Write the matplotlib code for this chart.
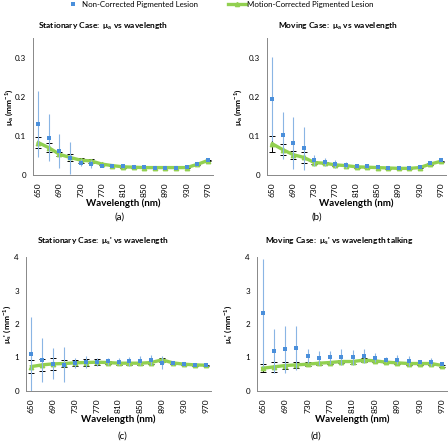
import numpy as np
import matplotlib
matplotlib.use("Agg")
import matplotlib.pyplot as plt
from matplotlib.lines import Line2D

plt.rcParams['font.family'] = ['Lato', 'DejaVu Sans']
plt.rcParams['mathtext.fontset'] = 'custom'
plt.rcParams['mathtext.rm'] = 'Lato'
plt.rcParams['mathtext.it'] = 'Lato'
plt.rcParams['mathtext.bf'] = 'Lato:bold'

wavelengths = [650, 670, 690, 710, 730, 750, 770, 790, 810, 830, 850, 870, 890, 910, 930, 950, 970]
tick_labels = ['650', '690', '730', '770', '810', '850', '890', '930', '970']

# (a) stationary, mu_a
a_nc = [0.131, 0.096, 0.062, 0.043, 0.032, 0.028, 0.024, 0.023, 0.022, 0.021, 0.020, 0.019, 0.019, 0.019, 0.021, 0.027, 0.038]
a_nc_err = [0.085, 0.060, 0.043, 0.041, 0.008, 0.010, 0.004, 0.003, 0.003, 0.003, 0.003, 0.002, 0.002, 0.002, 0.003, 0.003, 0.003]
a_mc = [0.083, 0.070, 0.053, 0.045, 0.038, 0.036, 0.028, 0.024, 0.021, 0.020, 0.019, 0.019, 0.019, 0.019, 0.019, 0.027, 0.037]
a_mc_err = [0.015, 0.011, 0.005, 0.010, 0.006, 0.006, 0.003, 0.002, 0.002, 0.002, 0.002, 0.002, 0.002, 0.002, 0.002, 0.002, 0.002]

# (b) moving, mu_a
b_nc = [0.194, 0.102, 0.082, 0.068, 0.038, 0.033, 0.028, 0.025, 0.023, 0.022, 0.020, 0.017, 0.017, 0.018, 0.020, 0.030, 0.038]
b_nc_err = [0.108, 0.060, 0.066, 0.056, 0.014, 0.010, 0.010, 0.008, 0.006, 0.005, 0.003, 0.002, 0.002, 0.002, 0.002, 0.002, 0.003]
b_mc = [0.080, 0.065, 0.052, 0.045, 0.032, 0.030, 0.026, 0.024, 0.021, 0.020, 0.019, 0.018, 0.017, 0.017, 0.019, 0.028, 0.035]
b_mc_err = [0.020, 0.015, 0.010, 0.013, 0.003, 0.003, 0.003, 0.002, 0.002, 0.002, 0.002, 0.002, 0.002, 0.002, 0.002, 0.002, 0.002]

# (c) stationary, mu_s'
c_nc = [1.09, 0.92, 0.82, 0.79, 0.84, 0.86, 0.87, 0.89, 0.88, 0.89, 0.91, 0.92, 0.84, 0.84, 0.80, 0.79, 0.78]
c_nc_err = [1.13, 0.65, 0.45, 0.53, 0.16, 0.18, 0.12, 0.10, 0.10, 0.13, 0.12, 0.15, 0.19, 0.05, 0.04, 0.03, 0.03]
c_mc = [0.73, 0.78, 0.81, 0.82, 0.84, 0.85, 0.86, 0.85, 0.83, 0.83, 0.83, 0.85, 0.93, 0.84, 0.80, 0.78, 0.77]
c_mc_err = [0.19, 0.19, 0.17, 0.10, 0.08, 0.10, 0.09, 0.05, 0.04, 0.04, 0.04, 0.04, 0.05, 0.03, 0.02, 0.02, 0.02]

# (d) moving (talking), mu_s'
d_nc = [2.34, 1.20, 1.25, 1.29, 1.04, 0.99, 1.01, 1.01, 1.01, 1.04, 1.00, 0.94, 0.94, 0.90, 0.87, 0.87, 0.82]
d_nc_err = [1.61, 0.65, 0.70, 0.66, 0.20, 0.21, 0.19, 0.23, 0.22, 0.20, 0.13, 0.08, 0.12, 0.14, 0.07, 0.11, 0.05]
d_mc = [0.68, 0.72, 0.76, 0.78, 0.80, 0.83, 0.85, 0.88, 0.88, 0.92, 0.90, 0.86, 0.84, 0.82, 0.82, 0.82, 0.76]
d_mc_err = [0.12, 0.15, 0.10, 0.09, 0.06, 0.04, 0.04, 0.05, 0.06, 0.06, 0.04, 0.03, 0.03, 0.03, 0.03, 0.03, 0.03]

BLUE = '#4a8fdb'
BLUE_ERR = '#8ab5e4'
GREEN = '#92d050'

fig = plt.figure(figsize=(4.48, 4.41), dpi=100)
W, H = 448.0, 441.0


def make_ax(left, right, top, bottom):
    return fig.add_axes([left / W, 1 - bottom / H, (right - left) / W, (bottom - top) / H])


def draw(ax, nc, nc_err, mc, mc_err, ymax, yticks, ylab, ylab_x):
    x = np.arange(len(wavelengths))
    ax.errorbar(x, mc, yerr=mc_err, color=GREEN, lw=2.4, marker='^', ms=3.2,
                ecolor='black', elinewidth=0.7, capsize=2.2, capthick=0.7, zorder=2)
    ax.errorbar(x, nc, yerr=nc_err, fmt='s', color=BLUE, ms=3.0, mew=0,
                ecolor=BLUE_ERR, elinewidth=0.8, capsize=2.2, capthick=0.8, zorder=3)
    ax.set_xlim(-0.5, len(x) - 0.5)
    ax.set_ylim(0, ymax)
    ax.set_xticks(x[::2])
    ax.set_xticklabels(tick_labels, rotation=90, fontsize=6)
    ax.set_yticks(yticks)
    ax.set_yticklabels(['{:g}'.format(v) for v in yticks], fontsize=5.8)
    ax.tick_params(length=0, pad=5)
    for s in ['top', 'right']:
        ax.spines[s].set_visible(False)
    for s in ['left', 'bottom']:
        ax.spines[s].set_color('#888888')
        ax.spines[s].set_linewidth(0.7)
    ax.set_xlabel('Wavelength (nm)', fontsize=7, fontweight='bold', labelpad=1)
    ax.set_ylabel(ylab, fontsize=6, fontweight='bold')
    ax.yaxis.set_label_coords(ylab_x, 0.5)


mua_lab = r'μ$_\mathbf{a}$ (mm$^\mathbf{-1}$)'
mus_lab = r"μ$_\mathbf{s}$' (mm$^\mathbf{-1}$)"

ax_a = make_ax(33, 213, 38.5, 175)
draw(ax_a, a_nc, a_nc_err, a_mc, a_mc_err, 0.35, [0, 0.1, 0.2, 0.3], mua_lab, -0.1)
ax_b = make_ax(267, 446, 38.5, 175)
draw(ax_b, b_nc, b_nc_err, b_mc, b_mc_err, 0.35, [0, 0.1, 0.2, 0.3], mua_lab, -0.13)
ax_c = make_ax(26, 211, 257, 391)
draw(ax_c, c_nc, c_nc_err, c_mc, c_mc_err, 4, [0, 1, 2, 3, 4], mus_lab, -0.072)
ax_d = make_ax(257, 448, 257, 391)
draw(ax_d, d_nc, d_nc_err, d_mc, d_mc_err, 4, [0, 1, 2, 3, 4], mus_lab, -0.12)

fig.text(103 / W, 1 - 26 / H, r'Stationary Case:  μ$_\mathbf{a}$ vs wavelength', fontsize=6,
         fontweight='bold', ha='center', va='center')
fig.text(338 / W, 1 - 26 / H, r'Moving Case:  μ$_\mathbf{a}$ vs wavelength', fontsize=6,
         fontweight='bold', ha='center', va='center')
fig.text(103 / W, 1 - 241 / H, r"Stationary Case:  μ$_\mathbf{s}$' vs wavelength", fontsize=6,
         fontweight='bold', ha='center', va='center')
fig.text(339 / W, 1 - 241 / H, r"Moving Case:  μ$_\mathbf{s}$' vs wavelength talking", fontsize=6,
         fontweight='bold', ha='center', va='center')

for lbl, xp, yp in [('(a)', 120, 217), ('(b)', 317, 217), ('(c)', 122, 436), ('(d)', 316, 436)]:
    fig.text(xp / W, 1 - yp / H, lbl, fontsize=7, ha='center', va='center')

h_nc = Line2D([], [], color=BLUE, marker='s', ms=3, lw=0, mew=0)
h_mc = Line2D([], [], color=GREEN, marker='^', ms=3, lw=2.4)
leg1 = fig.legend([h_nc], ['Non-Corrected Pigmented Lesion'], loc='center left',
                  bbox_to_anchor=(69 / W, 1 - 4 / H), frameon=False, fontsize=5.7,
                  handlelength=1.0, handletextpad=0.6, borderpad=0, borderaxespad=0)
leg2 = fig.legend([h_mc], ['Motion-Corrected Pigmented Lesion'], loc='center left',
                  bbox_to_anchor=(228 / W, 1 - 4 / H), frameon=False, fontsize=5.7,
                  handlelength=2.3, handletextpad=0.1, borderpad=0, borderaxespad=0)

fig.savefig('out.png', dpi=100)
